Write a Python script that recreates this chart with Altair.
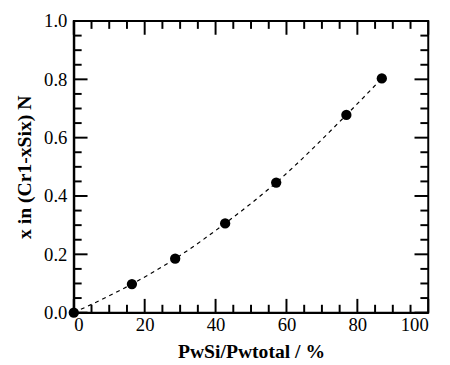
import altair as alt
import pandas as pd

# data
x_vals = [0, 16.4, 28.6, 42.7, 57.1, 76.9, 86.9]
y_vals = [0.0, 0.098, 0.185, 0.306, 0.446, 0.678, 0.803]

x_major = [0, 20, 40, 60, 80, 100]
x_minor = [5, 10, 15, 25, 30, 35, 45, 50, 55, 65, 70, 75, 85, 90, 95]
y_major = [0.0, 0.2, 0.4, 0.6, 0.8, 1.0]
y_minor = [0.05, 0.1, 0.15, 0.25, 0.3, 0.35, 0.45, 0.5, 0.55,
           0.65, 0.7, 0.75, 0.85, 0.9, 0.95]

W, H = 361, 297
MAJ, MIN = 14, 8
FONT = "Liberation Serif"

df = pd.DataFrame({"x": x_vals, "y": y_vals})
xs = alt.Scale(domain=[0, 100], nice=False, zero=False)
ys = alt.Scale(domain=[0, 1.0], nice=False, zero=False)

xaxis = alt.Axis(values=x_major, format="d", ticks=False, grid=False,
                 domainColor="black", domainWidth=2, labelFont=FONT,
                 labelFontSize=19, labelColor="black", labelPadding=3,
                 title="PwSi/Pwtotal / %", titleFont=FONT, titleFontSize=20,
                 titleFontWeight="bold", titleColor="black", titlePadding=8)
yaxis = alt.Axis(values=y_major, format=".1f", ticks=False, grid=False,
                 domainColor="black", domainWidth=2, labelFont=FONT,
                 labelFontSize=19, labelColor="black", labelPadding=7,
                 title="x in (Cr1-xSix) N", titleFont=FONT, titleFontSize=20,
                 titleFontWeight="bold", titleColor="black", titlePadding=9)

line = alt.Chart(df).mark_line(color="black", strokeDash=[4, 4], strokeWidth=1.2,
                               interpolate="monotone").encode(
    x=alt.X("x:Q", scale=xs, axis=xaxis),
    y=alt.Y("y:Q", scale=ys, axis=yaxis),
)
pts = alt.Chart(df).mark_point(filled=True, color="black", opacity=1, size=110).encode(
    x=alt.X("x:Q", scale=xs), y=alt.Y("y:Q", scale=ys))

def xticks(vals, L):
    d = pd.DataFrame({"v": vals})
    b = alt.Chart(d).mark_rule(color="black", strokeWidth=2).encode(
        x=alt.X("v:Q", scale=xs), y=alt.value(H), y2=alt.value(H - L))
    t = alt.Chart(d).mark_rule(color="black", strokeWidth=2).encode(
        x=alt.X("v:Q", scale=xs), y=alt.value(0), y2=alt.value(L))
    return [b, t]

def yticks(vals, L):
    d = pd.DataFrame({"v": vals})
    l = alt.Chart(d).mark_rule(color="black", strokeWidth=2).encode(
        y=alt.Y("v:Q", scale=ys), x=alt.value(0), x2=alt.value(L))
    r = alt.Chart(d).mark_rule(color="black", strokeWidth=2).encode(
        y=alt.Y("v:Q", scale=ys), x=alt.value(W), x2=alt.value(W - L))
    return [l, r]

layers = [line] + xticks(x_major, MAJ) + xticks(x_minor, MIN) + \
    yticks(y_major, MAJ) + yticks(y_minor, MIN) + [pts]

chart = alt.layer(*layers).properties(
    width=W, height=H,
    autosize=alt.AutoSizeParams(type="none"),
    padding={"left": 67, "top": 10, "right": 14, "bottom": 46},
    background="white",
).configure_view(stroke="black", strokeWidth=2)

chart.save("out.html", embed_options={"renderer": "svg", "actions": False})
